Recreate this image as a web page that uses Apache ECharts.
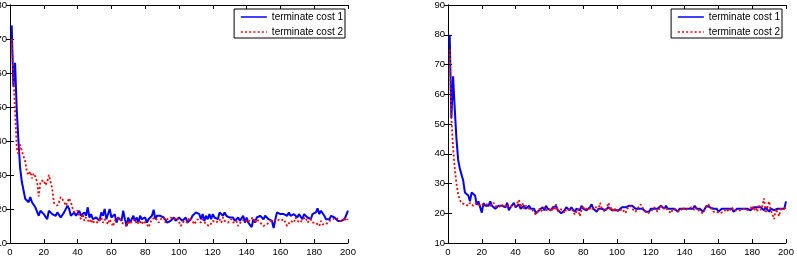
<!DOCTYPE html>
<html>
<head>
<meta charset="utf-8">
<script src="https://cdn.jsdelivr.net/npm/echarts@6/dist/echarts.min.js"></script>
<style>
  html, body { margin: 0; padding: 0; background: #fff; }
  #chart { width: 797px; height: 278px; }
</style>
</head>
<body>
<div id="chart"></div>
<script>
// values, iterations 1..200
const leftCost1 = [
  74, 56, 63, 49, 40, 32, 28, 27.5, 23, 22.5, 22, 23.5, 22, 21.5, 20.5, 21, 18, 19.5, 20, 18.5,
  19, 17, 19.5, 19, 18.5, 19, 18, 19, 18.5, 17.5, 18, 19, 18.5, 21, 20, 18, 17.5, 19, 18, 17.5,
  19.5, 18, 17.5, 19, 18, 20.5, 17.5, 18.5, 17, 16.5, 17.5, 18, 16.5, 19, 18, 20, 17, 16.5, 20, 17.5,
  17, 18.5, 16, 17.5, 18, 16.5, 19.5, 17, 15, 17.5, 16, 17, 18, 16.5, 17.5, 16, 18, 17, 16.5, 17.5,
  16, 17, 16.5, 18, 19.8, 17, 18, 18.5, 18, 18.5, 17.5, 17, 16, 15.5, 16.5, 17, 17.5, 16.5, 17, 17.5,
  18, 16.5, 17, 17.5, 16, 16.5, 17, 18, 17.5, 19, 19.2, 18.5, 17, 18.5, 16.5, 18, 17, 18.5, 17, 18.5,
  17.5, 18, 17, 19, 18.5, 18, 19, 18, 18.5, 17.5, 17, 17.5, 16.5, 17, 17.5, 16.5, 17, 18, 16, 17.5,
  16, 15.5, 14.7, 17, 16, 17.5, 17, 18, 17.5, 17, 18, 17.5, 17, 17.5, 16.5, 14.4, 17, 19, 19.5, 18.5,
  19, 18.5, 19, 18, 19, 18, 17.5, 18.5, 18, 17.5, 18.5, 18, 17, 18.5, 18, 17.5, 18, 17, 18.5, 18,
  19, 20.2, 18.5, 19.5, 19, 18, 17, 17.5, 17, 18, 17.5, 17.5, 17, 16.5, 17, 16.5, 16.5, 17, 16.8, 19.5
];
const leftCost2 = [
  70, 59, 49, 38, 36, 39, 37, 36.5, 34, 31, 30, 31, 29, 30.5, 29.5, 28, 23.7, 28, 27.5, 28.5,
  27, 28, 30, 30.5, 26, 21.8, 21.5, 21, 22, 23.5, 23.7, 22.2, 21, 22, 23.2, 22, 20.3, 19, 18.8, 19.5,
  18, 17, 18.5, 16.5, 17.5, 18, 16, 17, 15.7, 16.5, 17, 16, 16.5, 17.5, 16, 17, 16.5, 15.5, 17, 16,
  14.9, 16.5, 17.3, 17, 17.5, 16, 16.5, 15.5, 14.9, 16.5, 15.5, 16.5, 16, 17, 15.5, 16, 16.5, 15.5, 16.5, 16,
  15.5, 14.6, 16, 17, 16.5, 17.5, 17, 16, 17, 16.5, 17.5, 16, 17, 16.5, 17.5, 18, 17, 16.5, 17.5, 17,
  15, 15.5, 16.5, 17, 16, 17.5, 17, 16.5, 15.5, 16, 17, 16.5, 16, 17, 16.5, 15.5, 16, 15, 14.5, 16.5,
  17, 16, 16.5, 17, 16, 17.5, 16.5, 17, 16, 16.5, 17, 16, 15.5, 16.5, 15, 15, 16.5, 16, 17, 16.5,
  16, 17, 16.5, 17.5, 16, 17, 16.5, 16, 15.5, 15, 15, 15.5, 15, 16.5, 17, 16.5, 16, 17, 17.5, 16.5,
  16, 17, 16, 15, 15.5, 16.5, 17, 16, 17.5, 16.5, 17, 16, 17, 16.5, 17.5, 16, 16.5, 17, 16, 15.5,
  16, 15.5, 15, 16.5, 15.5, 16, 15.5, 16, 16.5, 16, 17, 16.5, 17.5, 17, 16.5, 17, 16.5, 17.5, 16.5, 17
];
const rightCost1 = [
  80, 52, 66, 55, 45, 38, 35, 34.5, 31, 27, 26.5, 26, 24, 27, 26.5, 26, 22.8, 24, 23.5, 20.2,
  23.4, 22.5, 23, 22.5, 24, 22.5, 22, 21.5, 22, 22.5, 22, 22.5, 23, 22, 23.5, 21, 22, 22.5, 23.5, 22,
  22.5, 23, 21.5, 22, 22.5, 21.5, 22, 22.5, 21.5, 21, 21.5, 20, 20.5, 21, 21.5, 22, 21, 22.5, 21.5, 22,
  21, 22, 21.5, 22.5, 21, 21.5, 20, 20.5, 21, 22, 21.5, 21, 22, 21.5, 20.5, 21.5, 22, 21, 22.5, 21.5,
  22, 21, 21.5, 22, 23, 21.5, 21, 20.5, 21.5, 22, 21.5, 22, 21, 21.5, 22, 21.5, 21, 21.5, 21, 21.5,
  21, 21.5, 22, 21.5, 22, 21.5, 22.5, 23, 22.5, 22, 21.5, 21, 21.5, 22, 21.5, 21, 20.5, 20, 20.5, 21.5,
  22, 21.5, 21, 21.5, 22, 22.5, 22, 21.5, 22.5, 21.5, 21, 21.5, 21, 21.5, 21, 20.5, 21.5, 21, 21.5, 21,
  21.5, 22, 21.5, 22, 21.5, 22.5, 21.5, 22, 21.5, 21, 20.5, 21.5, 22.5, 23, 22, 22.5, 21.5, 21, 21.5, 20.5,
  21, 21.5, 21, 21.5, 22, 21.5, 21, 21.5, 20.5, 21, 21.5, 22, 21.5, 21, 21.5, 22, 21.5, 22, 21, 21.5,
  22, 21.5, 22, 21.5, 22, 21.5, 21, 22, 21.5, 20.5, 21.5, 22, 21, 20.5, 21.5, 21, 21.5, 22, 21.5, 24
];
const rightCost2 = [
  75, 52, 42, 35, 30, 26.5, 24.5, 23.4, 24, 23, 22.8, 22.5, 23.5, 23, 22.5, 23, 23.5, 23, 22.5, 23,
  23, 22.5, 23, 23.5, 22.5, 23, 23.5, 22.5, 23, 22, 22.5, 23, 22, 22.5, 23, 22, 21.5, 22.5, 23, 22.5,
  23, 24.5, 22, 23.5, 21.5, 22.5, 22, 21.5, 22, 21, 20.5, 19.5, 20.5, 21.5, 20.5, 21, 22, 21, 20.5, 21.5,
  20.5, 22, 21, 23, 20.5, 21.5, 22, 21, 20, 21.5, 22, 21, 20.5, 21, 19.5, 20, 21.5, 19, 21, 22.5,
  21, 20.5, 22, 21.5, 21, 22, 21.5, 22, 21, 23.5, 21.5, 21, 20.5, 22, 23.5, 21, 22, 20.5, 21.5, 21,
  20.5, 21, 21.5, 21, 20, 21.5, 21, 22.5, 21.5, 21, 20.5, 21.5, 22, 23, 22, 21, 21.5, 20, 19.5, 20.5,
  21, 22, 21.5, 20.5, 21, 22.5, 21.5, 21, 22, 21, 20.5, 20, 21.5, 22, 21, 21.5, 20.5, 21, 22, 21,
  20.5, 21.5, 21, 22, 21.5, 21, 22, 21.5, 20.5, 21, 20, 21.5, 22, 23, 22.5, 21.5, 20.5, 21, 20.5, 21,
  20, 19.5, 20.5, 21, 21.5, 20.5, 21, 22, 21, 20.5, 21, 21.5, 21, 20.5, 21.5, 22, 21, 20.5, 21.5, 22.5,
  21, 22, 20.5, 23, 21, 22.5, 25, 20, 22, 24, 21, 19.5, 18, 21.5, 20, 19, 22, 21, 20.5, 22
];
const names = ["terminate cost 1", "terminate cost 2"];

const font = "Liberation Sans, Arial, Helvetica, sans-serif";
const toPoints = arr => arr.map((v, i) => [i + 1, v]);

function xAxes(grid) {
  const base = {
    gridIndex: grid, type: "value", min: 0, max: 200, interval: 20,
    axisLine: { show: true, lineStyle: { color: "#000", width: 1 } },
    axisTick: { show: true, inside: true, length: 4, lineStyle: { color: "#000" } },
    splitLine: { show: false }
  };
  return [
    { ...base, position: "bottom",
      axisLabel: { color: "#000", fontSize: 9.5, fontFamily: font, margin: 4 } },
    { ...base, position: "top", axisLabel: { show: false } }
  ];
}

function yAxes(grid, min, max) {
  const base = {
    gridIndex: grid, type: "value", min: min, max: max, interval: 10,
    axisLine: { show: true, lineStyle: { color: "#000", width: 1 } },
    axisTick: { show: true, inside: true, length: 4, lineStyle: { color: "#000" } },
    splitLine: { show: false }
  };
  return [
    { ...base, position: "left",
      axisLabel: { color: "#000", fontSize: 9.5, fontFamily: font, margin: 3 } },
    { ...base, position: "right", axisLabel: { show: false } }
  ];
}

function lineSeries(name, data, x, y, dotted) {
  return {
    name: name, type: "line", xAxisIndex: x, yAxisIndex: y,
    data: toPoints(data), symbol: "none", animation: false,
    lineStyle: dotted
      ? { color: "#ff0000", width: 1.8, type: [2, 2.2] }
      : { color: "#0000ff", width: 2 },
    itemStyle: { color: dotted ? "#ff0000" : "#0000ff" },
    z: dotted ? 3 : 2
  };
}

function legendAt(right) {
  return {
    data: names, orient: "vertical", top: 9, right: right,
    backgroundColor: "#fff", borderColor: "#000", borderWidth: 1, borderRadius: 0,
    padding: [2, 2, 0, 6], itemGap: 3, itemWidth: 26, itemHeight: 12,
    lineStyle: { width: 1.5 },
    itemStyle: { opacity: 0 },
    textStyle: { color: "#000", fontSize: 10, fontFamily: font, lineHeight: 12 },
    selectedMode: false
  };
}

const chart = echarts.init(document.getElementById("chart"));
chart.setOption({
  animation: false,
  backgroundColor: "#fff",
  grid: [
    { left: 10, top: 5, width: 338, height: 238, outerBoundsMode: "none" },
    { left: 448, top: 5, width: 338, height: 238, outerBoundsMode: "none" }
  ],
  xAxis: [...xAxes(0), ...xAxes(1)],
  yAxis: [...yAxes(0, 10, 80), ...yAxes(1, 10, 90)],
  legend: [legendAt(452), legendAt(15)],
  series: [
    lineSeries(names[0], leftCost1, 0, 0, false),
    lineSeries(names[1], leftCost2, 0, 0, true),
    lineSeries(names[0], rightCost1, 2, 2, false),
    lineSeries(names[1], rightCost2, 2, 2, true)
  ]
});
</script>
</body>
</html>
